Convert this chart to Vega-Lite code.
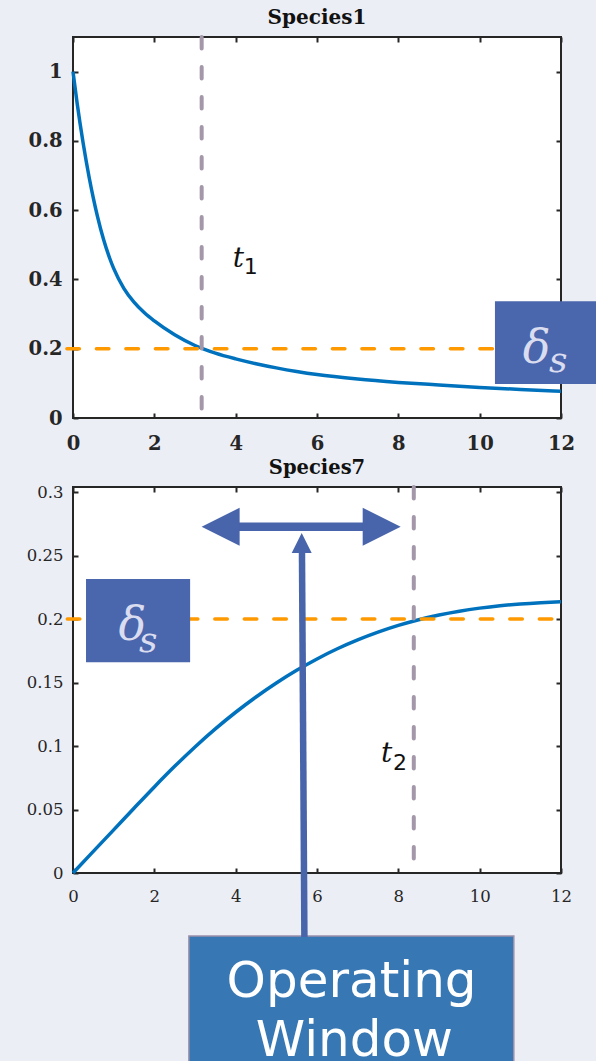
{
  "$schema": "https://vega.github.io/schema/vega-lite/v6.json",
  "background": "#eceef5",
  "padding": {"left": 25, "top": 7, "right": 0, "bottom": 0},
  "spacing": 2,
  "config": {
    "view": {"stroke": "#262626", "strokeWidth": 2, "fill": "white"},
    "axis": {"grid": false, "domain": false, "labelFlush": false, "tickColor": "#262626", "tickWidth": 2, "tickSize": -5, "labelColor": "#262626", "labelFont": "DejaVu Serif"}
  },
  "vconcat": [
    {
      "width": 488,
      "height": 381,
      "title": {"text": "Species1", "font": "DejaVu Serif", "fontSize": 20, "fontWeight": "bold", "color": "#111111", "frame": "group", "anchor": "middle", "baseline": "alphabetic", "offset": -9},
      "resolve": {"axis": {"x": "independent", "y": "independent"}},
      "layer": [
        {
          "data": {"values": [
            {"t": 0, "v": 1.0}, {"t": 0.1, "v": 0.91}, {"t": 0.25, "v": 0.793}, {"t": 0.4, "v": 0.693},
            {"t": 0.5, "v": 0.635}, {"t": 0.6, "v": 0.583}, {"t": 0.75, "v": 0.516}, {"t": 0.9, "v": 0.462},
            {"t": 1.0, "v": 0.432}, {"t": 1.25, "v": 0.3745}, {"t": 1.5, "v": 0.3345}, {"t": 1.75, "v": 0.3045},
            {"t": 2.0, "v": 0.2803}, {"t": 2.5, "v": 0.2403}, {"t": 3.0, "v": 0.2093}, {"t": 3.5, "v": 0.1873},
            {"t": 4.0, "v": 0.1708}, {"t": 4.5, "v": 0.1568}, {"t": 5.0, "v": 0.1448}, {"t": 5.5, "v": 0.1343},
            {"t": 6.0, "v": 0.1253}, {"t": 7.0, "v": 0.1123}, {"t": 8.0, "v": 0.1028}, {"t": 9.0, "v": 0.0953},
            {"t": 10.0, "v": 0.0883}, {"t": 11.0, "v": 0.0823}, {"t": 12.0, "v": 0.0773}
          ]},
          "mark": {"type": "line", "color": "#0072bd", "strokeWidth": 3.5, "interpolate": "monotone"},
          "encoding": {
            "x": {"field": "t", "type": "quantitative", "scale": {"domain": [0, 12], "nice": false, "zero": false},
                  "axis": {"orient": "bottom", "title": null, "values": [0, 2, 4, 6, 8, 10, 12], "labelFontSize": 19.5, "labelFontWeight": "bold", "labelPadding": 21}},
            "y": {"field": "v", "type": "quantitative", "scale": {"domain": [0, 1.1], "nice": false, "zero": false},
                  "axis": {"orient": "left", "title": null, "values": [0, 0.2, 0.4, 0.6, 0.8, 1], "format": ".1~f", "labelFontSize": 19.5, "labelFontWeight": "bold", "labelPadding": 16}}
          }
        },
        {
          "data": {"values": [{"x": -0.15, "x2": 12, "y": 0.2}]},
          "mark": {"type": "rule", "color": "#ff9900", "strokeWidth": 3.5, "strokeDash": [12.5, 17], "strokeCap": "round"},
          "encoding": {
            "x": {"field": "x", "type": "quantitative", "scale": {"domain": [0, 12], "nice": false, "zero": false},
                  "axis": {"orient": "top", "title": null, "labels": false, "values": [0, 2, 4, 6, 8, 10, 12]}},
            "x2": {"field": "x2"},
            "y": {"field": "y", "type": "quantitative", "scale": {"domain": [0, 1.1], "nice": false, "zero": false},
                  "axis": {"orient": "right", "title": null, "labels": false, "values": [0, 0.2, 0.4, 0.6, 0.8, 1]}}
          }
        },
        {
          "data": {"values": [{"x": 3.164, "y": 1.1, "y2": 0.023}]},
          "mark": {"type": "rule", "color": "#a397a9", "strokeWidth": 4, "strokeDash": [11.5, 18.5], "strokeCap": "round"},
          "encoding": {
            "x": {"field": "x", "type": "quantitative", "scale": {"domain": [0, 12], "nice": false, "zero": false}, "axis": null},
            "y": {"field": "y", "type": "quantitative", "scale": {"domain": [0, 1.1], "nice": false, "zero": false}, "axis": null},
            "y2": {"field": "y2"}
          }
        },
        {
          "data": {"values": [{"x": 10.376, "x2": 12.95, "y": 0.098, "y2": 0.337}]},
          "mark": {"type": "rect", "color": "#4a66ad"},
          "encoding": {
            "x": {"field": "x", "type": "quantitative", "scale": {"domain": [0, 12], "nice": false, "zero": false}, "axis": null},
            "x2": {"field": "x2"},
            "y": {"field": "y", "type": "quantitative", "scale": {"domain": [0, 1.1], "nice": false, "zero": false}, "axis": null},
            "y2": {"field": "y2"}
          }
        },
        {
          "data": {"values": [{"x": 11.4, "y": 0.1576, "txt": "δ"}]},
          "mark": {"type": "text", "font": "DejaVu Serif", "fontStyle": "italic", "fontSize": 46, "color": "#dadcf0", "align": "center", "baseline": "alphabetic"},
          "encoding": {
            "x": {"field": "x", "type": "quantitative", "scale": {"domain": [0, 12], "nice": false, "zero": false}, "axis": null},
            "y": {"field": "y", "type": "quantitative", "scale": {"domain": [0, 1.1], "nice": false, "zero": false}, "axis": null},
            "text": {"field": "txt"}
          }
        },
        {
          "data": {"values": [{"x": 11.93, "y": 0.1335, "txt": "s"}]},
          "mark": {"type": "text", "font": "DejaVu Serif", "fontStyle": "italic", "fontSize": 36, "color": "#dadcf0", "align": "center", "baseline": "alphabetic"},
          "encoding": {
            "x": {"field": "x", "type": "quantitative", "scale": {"domain": [0, 12], "nice": false, "zero": false}, "axis": null},
            "y": {"field": "y", "type": "quantitative", "scale": {"domain": [0, 1.1], "nice": false, "zero": false}, "axis": null},
            "text": {"field": "txt"}
          }
        },
        {
          "data": {"values": [{"x": 4.065, "y": 0.436, "txt": "t"}]},
          "mark": {"type": "text", "font": "DejaVu Serif", "fontStyle": "italic", "fontSize": 28, "color": "#111111", "align": "center", "baseline": "alphabetic"},
          "encoding": {
            "x": {"field": "x", "type": "quantitative", "scale": {"domain": [0, 12], "nice": false, "zero": false}, "axis": null},
            "y": {"field": "y", "type": "quantitative", "scale": {"domain": [0, 1.1], "nice": false, "zero": false}, "axis": null},
            "text": {"field": "txt"}
          }
        },
        {
          "data": {"values": [{"x": 4.37, "y": 0.417, "txt": "1"}]},
          "mark": {"type": "text", "font": "DejaVu Sans", "fontSize": 22, "color": "#111111", "align": "center", "baseline": "alphabetic"},
          "encoding": {
            "x": {"field": "x", "type": "quantitative", "scale": {"domain": [0, 12], "nice": false, "zero": false}, "axis": null},
            "y": {"field": "y", "type": "quantitative", "scale": {"domain": [0, 1.1], "nice": false, "zero": false}, "axis": null},
            "text": {"field": "txt"}
          }
        }
      ]
    },
    {
      "width": 488,
      "height": 386,
      "title": {"text": "Species7", "font": "DejaVu Serif", "fontSize": 19.5, "fontWeight": "bold", "color": "#111111", "frame": "group", "anchor": "middle", "baseline": "alphabetic", "offset": -9},
      "resolve": {"axis": {"x": "independent", "y": "independent"}},
      "layer": [
        {
          "data": {"values": [
            {"t": 0, "v": 0}, {"t": 0.5, "v": 0.017}, {"t": 1.0, "v": 0.034}, {"t": 1.5, "v": 0.051},
            {"t": 2.0, "v": 0.0678}, {"t": 2.5, "v": 0.084}, {"t": 3.0, "v": 0.0993}, {"t": 3.5, "v": 0.1135},
            {"t": 4.0, "v": 0.1266}, {"t": 4.5, "v": 0.1386}, {"t": 5.0, "v": 0.1496}, {"t": 5.5, "v": 0.1596},
            {"t": 6.0, "v": 0.1686}, {"t": 6.5, "v": 0.1766}, {"t": 7.0, "v": 0.1836}, {"t": 7.5, "v": 0.1897},
            {"t": 8.0, "v": 0.195}, {"t": 8.5, "v": 0.1995}, {"t": 9.0, "v": 0.2032}, {"t": 9.5, "v": 0.2062},
            {"t": 10.0, "v": 0.2086}, {"t": 10.5, "v": 0.2105}, {"t": 11.0, "v": 0.2119}, {"t": 11.5, "v": 0.2129},
            {"t": 12.0, "v": 0.2136}
          ]},
          "mark": {"type": "line", "color": "#0072bd", "strokeWidth": 3.5, "interpolate": "monotone"},
          "encoding": {
            "x": {"field": "t", "type": "quantitative", "scale": {"domain": [0, 12], "nice": false, "zero": false},
                  "axis": {"orient": "bottom", "title": null, "values": [0, 2, 4, 6, 8, 10, 12], "labelFontSize": 16.5, "labelPadding": 20}},
            "y": {"field": "v", "type": "quantitative", "scale": {"domain": [0, 0.304], "nice": false, "zero": false},
                  "axis": {"orient": "left", "title": null, "values": [0, 0.05, 0.1, 0.15, 0.2, 0.25, 0.3], "format": ".2~f", "labelFontSize": 16.5, "labelPadding": 15}}
          }
        },
        {
          "data": {"values": [{"x": -0.14, "x2": 12, "y": 0.2}]},
          "mark": {"type": "rule", "color": "#ff9900", "strokeWidth": 3.5, "strokeDash": [12.5, 17], "strokeCap": "round"},
          "encoding": {
            "x": {"field": "x", "type": "quantitative", "scale": {"domain": [0, 12], "nice": false, "zero": false},
                  "axis": {"orient": "top", "title": null, "labels": false, "values": [0, 2, 4, 6, 8, 10, 12]}},
            "x2": {"field": "x2"},
            "y": {"field": "y", "type": "quantitative", "scale": {"domain": [0, 0.304], "nice": false, "zero": false},
                  "axis": {"orient": "right", "title": null, "labels": false, "values": [0, 0.05, 0.1, 0.15, 0.2, 0.25, 0.3]}}
          }
        },
        {
          "data": {"values": [{"x": 8.38, "y": 0.304, "y2": 0.009}]},
          "mark": {"type": "rule", "color": "#a397a9", "strokeWidth": 4, "strokeDash": [11.5, 18.5], "strokeCap": "round"},
          "encoding": {
            "x": {"field": "x", "type": "quantitative", "scale": {"domain": [0, 12], "nice": false, "zero": false}, "axis": null},
            "y": {"field": "y", "type": "quantitative", "scale": {"domain": [0, 0.304], "nice": false, "zero": false}, "axis": null},
            "y2": {"field": "y2"}
          }
        },
        {
          "data": {"values": [{"x": 0.32, "x2": 2.88, "y": 0.166, "y2": 0.2315}]},
          "mark": {"type": "rect", "color": "#4a66ad"},
          "encoding": {
            "x": {"field": "x", "type": "quantitative", "scale": {"domain": [0, 12], "nice": false, "zero": false}, "axis": null},
            "x2": {"field": "x2"},
            "y": {"field": "y", "type": "quantitative", "scale": {"domain": [0, 0.304], "nice": false, "zero": false}, "axis": null},
            "y2": {"field": "y2"}
          }
        },
        {
          "data": {"values": [{"x": 1.458, "y": 0.1835, "txt": "δ"}]},
          "mark": {"type": "text", "font": "DejaVu Serif", "fontStyle": "italic", "fontSize": 46, "color": "#dadcf0", "align": "center", "baseline": "alphabetic"},
          "encoding": {
            "x": {"field": "x", "type": "quantitative", "scale": {"domain": [0, 12], "nice": false, "zero": false}, "axis": null},
            "y": {"field": "y", "type": "quantitative", "scale": {"domain": [0, 0.304], "nice": false, "zero": false}, "axis": null},
            "text": {"field": "txt"}
          }
        },
        {
          "data": {"values": [{"x": 1.849, "y": 0.1743, "txt": "s"}]},
          "mark": {"type": "text", "font": "DejaVu Serif", "fontStyle": "italic", "fontSize": 36, "color": "#dadcf0", "align": "center", "baseline": "alphabetic"},
          "encoding": {
            "x": {"field": "x", "type": "quantitative", "scale": {"domain": [0, 12], "nice": false, "zero": false}, "axis": null},
            "y": {"field": "y", "type": "quantitative", "scale": {"domain": [0, 0.304], "nice": false, "zero": false}, "axis": null},
            "text": {"field": "txt"}
          }
        },
        {
          "data": {"values": [{"x": 7.71, "y": 0.0876, "txt": "t"}]},
          "mark": {"type": "text", "font": "DejaVu Serif", "fontStyle": "italic", "fontSize": 28, "color": "#111111", "align": "center", "baseline": "alphabetic"},
          "encoding": {
            "x": {"field": "x", "type": "quantitative", "scale": {"domain": [0, 12], "nice": false, "zero": false}, "axis": null},
            "y": {"field": "y", "type": "quantitative", "scale": {"domain": [0, 0.304], "nice": false, "zero": false}, "axis": null},
            "text": {"field": "txt"}
          }
        },
        {
          "data": {"values": [{"x": 8.04, "y": 0.0811, "txt": "2"}]},
          "mark": {"type": "text", "font": "DejaVu Sans", "fontSize": 22, "color": "#111111", "align": "center", "baseline": "alphabetic"},
          "encoding": {
            "x": {"field": "x", "type": "quantitative", "scale": {"domain": [0, 12], "nice": false, "zero": false}, "axis": null},
            "y": {"field": "y", "type": "quantitative", "scale": {"domain": [0, 0.304], "nice": false, "zero": false}, "axis": null},
            "text": {"field": "txt"}
          }
        },
        {
          "data": {"values": [{"x": 2.85, "x2": 10.84, "y": -0.0496, "y2": -0.17}]},
          "mark": {"type": "rect", "color": "#3778b4", "stroke": "#9a90aa", "strokeWidth": 1.5},
          "encoding": {
            "x": {"field": "x", "type": "quantitative", "scale": {"domain": [0, 12], "nice": false, "zero": false}, "axis": null},
            "x2": {"field": "x2"},
            "y": {"field": "y", "type": "quantitative", "scale": {"domain": [0, 0.304], "nice": false, "zero": false}, "axis": null},
            "y2": {"field": "y2"}
          }
        },
        {
          "data": {"values": [{"x": 6.85, "y": -0.0976, "txt": "Operating"}, {"x": 6.92, "y": -0.1445, "txt": "Window"}]},
          "mark": {"type": "text", "font": "DejaVu Sans", "fontSize": 50, "color": "#ffffff", "align": "center", "baseline": "alphabetic"},
          "encoding": {
            "x": {"field": "x", "type": "quantitative", "scale": {"domain": [0, 12], "nice": false, "zero": false}, "axis": null},
            "y": {"field": "y", "type": "quantitative", "scale": {"domain": [0, 0.304], "nice": false, "zero": false}, "axis": null},
            "text": {"field": "txt"}
          }
        },
        {
          "data": {"values": [{"x": 3.63, "x2": 7.59, "y": 0.2727}]},
          "mark": {"type": "rule", "color": "#4864aa", "strokeWidth": 8.7},
          "encoding": {
            "x": {"field": "x", "type": "quantitative", "scale": {"domain": [0, 12], "nice": false, "zero": false}, "axis": null},
            "x2": {"field": "x2"},
            "y": {"field": "y", "type": "quantitative", "scale": {"domain": [0, 0.304], "nice": false, "zero": false}, "axis": null}
          }
        },
        {
          "data": {"values": [{"x": 3.63, "y": 0.2727}]},
          "mark": {"type": "point", "shape": "M-1,0L1,-1L1,1Z", "size": 1444, "filled": true, "opacity": 1, "color": "#4864aa"},
          "encoding": {
            "x": {"field": "x", "type": "quantitative", "scale": {"domain": [0, 12], "nice": false, "zero": false}, "axis": null},
            "y": {"field": "y", "type": "quantitative", "scale": {"domain": [0, 0.304], "nice": false, "zero": false}, "axis": null}
          }
        },
        {
          "data": {"values": [{"x": 7.59, "y": 0.2727}]},
          "mark": {"type": "point", "shape": "M1,0L-1,-1L-1,1Z", "size": 1444, "filled": true, "opacity": 1, "color": "#4864aa"},
          "encoding": {
            "x": {"field": "x", "type": "quantitative", "scale": {"domain": [0, 12], "nice": false, "zero": false}, "axis": null},
            "y": {"field": "y", "type": "quantitative", "scale": {"domain": [0, 0.304], "nice": false, "zero": false}, "axis": null}
          }
        },
        {
          "data": {"values": [{"x": 5.63, "y": 0.2543, "x2": 5.69, "y2": -0.0504}]},
          "mark": {"type": "rule", "color": "#4864aa", "strokeWidth": 6.5},
          "encoding": {
            "x": {"field": "x", "type": "quantitative", "scale": {"domain": [0, 12], "nice": false, "zero": false}, "axis": null},
            "x2": {"field": "x2"},
            "y": {"field": "y", "type": "quantitative", "scale": {"domain": [0, 0.304], "nice": false, "zero": false}, "axis": null},
            "y2": {"field": "y2"}
          }
        },
        {
          "data": {"values": [{"x": 5.623, "y": 0.2598}]},
          "mark": {"type": "point", "shape": "M0,-1L1,1L-1,1Z", "size": 400, "filled": true, "opacity": 1, "color": "#4864aa"},
          "encoding": {
            "x": {"field": "x", "type": "quantitative", "scale": {"domain": [0, 12], "nice": false, "zero": false}, "axis": null},
            "y": {"field": "y", "type": "quantitative", "scale": {"domain": [0, 0.304], "nice": false, "zero": false}, "axis": null}
          }
        }
      ]
    }
  ]
}
